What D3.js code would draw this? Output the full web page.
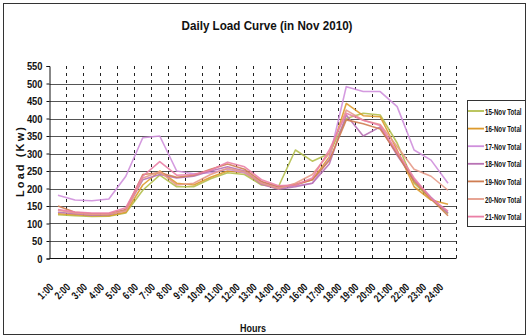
<!DOCTYPE html>
<html>
<head>
<meta charset="utf-8">
<script src="https://cdn.jsdelivr.net/npm/d3@7"></script>
<style>
  html, body { margin: 0; padding: 0; background: #fff; }
  svg { display: block; }
  text { font-family: "Liberation Sans Narrow", "Arial Narrow", "Liberation Sans", Arial, sans-serif; font-weight: bold; fill: #111; }
</style>
</head>
<body>
<svg id="chart" width="528" height="336"></svg>
<script>
// Hourly load readings (kW), one series per day
const hours = ["1:00","2:00","3:00","4:00","5:00","6:00","7:00","8:00","9:00","10:00","11:00","12:00",
               "13:00","14:00","15:00","16:00","17:00","18:00","19:00","20:00","21:00","22:00","23:00","24:00"];
const seriesNames = ["15-Nov Total","16-Nov Total","17-Nov Total","18-Nov Total","19-Nov Total","20-Nov Total","21-Nov Total"];
const nov15 = [125,122,120,121,130,195,238,205,205,228,245,240,210,205,310,278,300,400,415,410,330,215,170,128];
const nov16 = [128,125,122,122,132,210,250,215,210,232,250,245,215,200,212,225,290,443,408,405,310,205,167,155];
const nov17 = [181,167,165,170,235,345,350,250,242,245,255,245,218,203,207,215,285,491,477,477,434,310,281,215];
const nov18 = [132,128,124,125,138,225,240,230,235,250,262,250,212,198,205,215,270,410,350,376,295,225,175,130];
const nov19 = [150,132,128,128,140,240,245,232,238,255,270,255,220,205,210,225,280,396,385,370,300,220,170,122];
const nov20 = [138,130,126,127,136,230,248,210,215,240,258,248,215,200,215,240,300,424,395,383,320,255,235,195];
const nov21 = [140,133,130,130,145,235,277,238,240,252,275,262,225,208,210,230,310,415,395,380,305,230,172,135];
const seriesValues = [nov15, nov16, nov17, nov18, nov19, nov20, nov21];
const seriesColors = ["#b4bf4e","#dd9a2c","#cf8fdc","#b872b4","#cf7d52","#e59a88","#ea7fa6"];
const yTicks = [0,50,100,150,200,250,300,350,400,450,500,550];

const svg = d3.select("#chart");

// outer frame
svg.append("rect").attr("x", 3.5).attr("y", 3.5).attr("width", 522).attr("height", 331)
  .attr("fill", "none").attr("stroke", "#333").attr("stroke-width", 1);

const x = d3.scaleBand().domain(hours).range([49.5, 456.5]).paddingInner(0).paddingOuter(0);
const y = d3.scaleLinear().domain([0, 550]).range([258.5, 66]);

// horizontal gridlines
svg.append("g").selectAll("line").data(yTicks.filter(v => v > 0 && v < 550)).join("line")
  .attr("x1", 49.5).attr("x2", 456.5)
  .attr("y1", d => Math.round(y(d)) + 0.5).attr("y2", d => Math.round(y(d)) + 0.5)
  .attr("stroke", "#555").attr("stroke-width", 1);

// vertical dashed gridlines at category boundaries
svg.append("g").selectAll("line").data(hours).join("line")
  .attr("x1", d => Math.round(x(d) + x.bandwidth()) + 0.5)
  .attr("x2", d => Math.round(x(d) + x.bandwidth()) + 0.5)
  .attr("y1", 66).attr("y2", 262)
  .attr("stroke", "#222").attr("stroke-width", 1).attr("stroke-dasharray", "3,4");

// y axis
const yAxis = svg.append("g").attr("transform", "translate(49.5,0)")
  .call(d3.axisLeft(y).tickValues(yTicks).tickSize(3).tickPadding(4));
yAxis.select(".domain").attr("stroke", "#111");
yAxis.selectAll(".tick line").attr("stroke", "#111");
yAxis.selectAll("text").style("font-size", "11px").attr("fill", "#111")
  .attr("textLength", d => String(d).length * 5.2).attr("lengthAdjust", "spacingAndGlyphs");

// x axis baseline
svg.append("line").attr("x1", 49.5).attr("x2", 456.5).attr("y1", 258.5).attr("y2", 258.5)
  .attr("stroke", "#111");

// x tick labels, rotated
svg.append("g").selectAll("text").data(hours).join("text")
  .attr("transform", d => `translate(${x(d) + x.bandwidth() / 2 - 4},288) rotate(-45)`)
  .attr("text-anchor", "end")
  .style("font-size", "11px")
  .attr("textLength", d => d.length * 4.2).attr("lengthAdjust", "spacingAndGlyphs")
  .text(d => d);

// series lines
const line = d3.line().x((d, i) => x(hours[i]) + x.bandwidth() / 2).y(d => y(d));
svg.append("g").selectAll("path").data(seriesValues).join("path")
  .attr("d", d => line(d))
  .attr("fill", "none")
  .attr("stroke", (d, i) => seriesColors[i])
  .attr("stroke-width", 1.6)
  .attr("stroke-opacity", 0.9)
  .attr("stroke-linejoin", "round");

// title
svg.append("text").attr("x", 267).attr("y", 30).attr("text-anchor", "middle")
  .style("font-size", "13px")
  .attr("textLength", 171).attr("lengthAdjust", "spacingAndGlyphs")
  .text("Daily Load Curve (in Nov 2010)");

// axis titles
svg.append("text").attr("transform", "translate(24,162) rotate(-90)").attr("text-anchor", "middle")
  .style("font-size", "11px")
  .attr("textLength", 70).attr("lengthAdjust", "spacing")
  .text("Load (Kw)");
svg.append("text").attr("x", 253).attr("y", 332).attr("text-anchor", "middle")
  .style("font-size", "10px")
  .attr("textLength", 26).attr("lengthAdjust", "spacingAndGlyphs")
  .text("Hours");

// legend
const legend = svg.append("g");
legend.append("rect").attr("x", 467.5).attr("y", 100.5).attr("width", 58).attr("height", 126)
  .attr("fill", "#fff").attr("stroke", "#333");
const items = legend.selectAll("g.item").data(seriesNames).join("g").attr("class", "item")
  .attr("transform", (d, i) => `translate(0,${111 + i * 17.6})`);
items.append("line").attr("x1", 468).attr("x2", 484).attr("y1", 0).attr("y2", 0)
  .attr("stroke", (d, i) => seriesColors[i]).attr("stroke-width", 1.8);
// condensed legend labels: horizontal squeeze keeps them inside the frame
items.append("text").attr("transform", "translate(485,3.5) scale(0.65,1)")
  .style("font-size", "9.5px")
  .text(d => d);
</script>
</body>
</html>
